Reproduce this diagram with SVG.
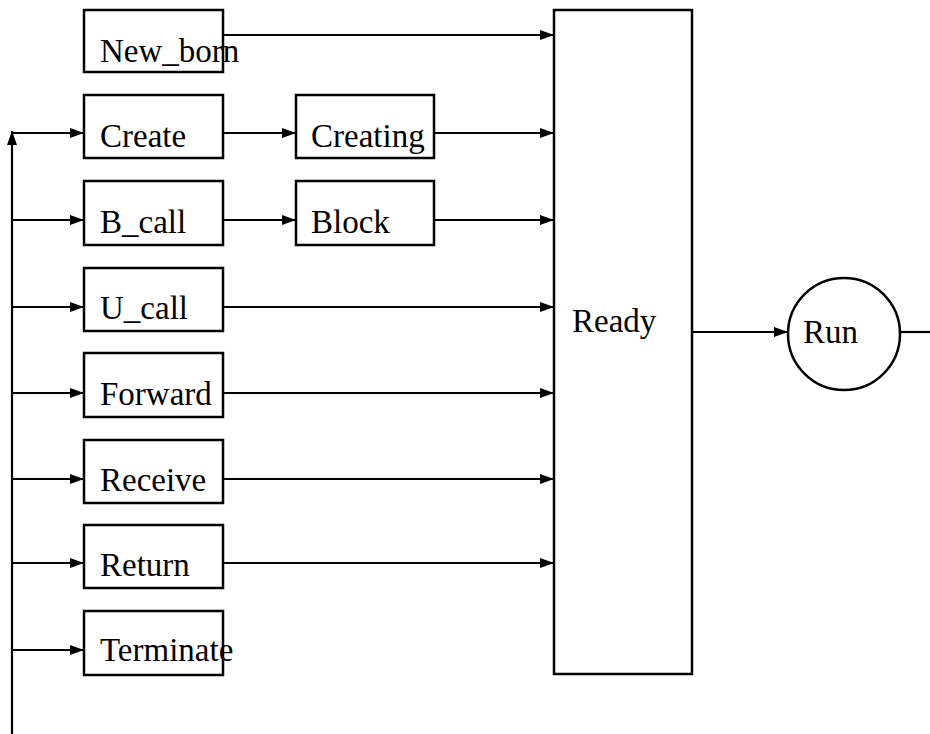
<svg xmlns="http://www.w3.org/2000/svg" width="930" height="734" viewBox="0 0 930 734">
  <style>
    .box { fill: #fff; stroke: #000; stroke-width: 2.5; }
    .lbl { font-family: "Liberation Serif", "DejaVu Serif", serif; font-size: 33px; fill: #000; }
    .wire { fill: none; stroke: #000; stroke-width: 2.2; }
    .arr { marker-end: url(#head); }
  </style>
  <defs>
    <marker id="head" viewBox="0 0 14 10" refX="14" refY="5" markerWidth="14" markerHeight="10" markerUnits="userSpaceOnUse" orient="auto">
      <path d="M0,0 L14,5 L0,10 Z" fill="#000"/>
    </marker>
  </defs>
  <rect width="930" height="734" fill="#fff"/>

  <!-- connectors -->
  <g id="connectors">
    <!-- feedback bus on the left -->
    <line class="wire arr" x1="12" y1="734" x2="12" y2="131"/>
    <line class="wire arr" x1="12" y1="133" x2="84" y2="133"/>
    <line class="wire arr" x1="12" y1="220" x2="84" y2="220"/>
    <line class="wire arr" x1="12" y1="307" x2="84" y2="307"/>
    <line class="wire arr" x1="12" y1="393" x2="84" y2="393"/>
    <line class="wire arr" x1="12" y1="479" x2="84" y2="479"/>
    <line class="wire arr" x1="12" y1="563" x2="84" y2="563"/>
    <line class="wire arr" x1="12" y1="650" x2="84" y2="650"/>
    <!-- intermediate states -->
    <line class="wire arr" x1="223" y1="133" x2="296" y2="133"/>
    <line class="wire arr" x1="223" y1="220" x2="296" y2="220"/>
    <!-- into Ready -->
    <line class="wire arr" x1="223" y1="35" x2="554" y2="35"/>
    <line class="wire arr" x1="434" y1="133" x2="554" y2="133"/>
    <line class="wire arr" x1="434" y1="220" x2="554" y2="220"/>
    <line class="wire arr" x1="223" y1="307" x2="554" y2="307"/>
    <line class="wire arr" x1="223" y1="393" x2="554" y2="393"/>
    <line class="wire arr" x1="223" y1="479" x2="554" y2="479"/>
    <line class="wire arr" x1="223" y1="563" x2="554" y2="563"/>
    <!-- Ready to Run and onward -->
    <line class="wire arr" x1="692" y1="332" x2="788" y2="332"/>
    <line class="wire" x1="900" y1="332" x2="930" y2="332"/>
  </g>

  <g id="new_born">
    <rect class="box" x="84" y="10" width="139" height="62"/>
    <text class="lbl" x="100" y="62">New_born</text>
  </g>
  <g id="create">
    <rect class="box" x="84" y="95" width="139" height="63"/>
    <text class="lbl" x="100" y="147">Create</text>
  </g>
  <g id="creating">
    <rect class="box" x="296" y="95" width="138" height="63"/>
    <text class="lbl" x="311" y="147">Creating</text>
  </g>
  <g id="b_call">
    <rect class="box" x="84" y="181" width="139" height="64"/>
    <text class="lbl" x="100" y="233">B_call</text>
  </g>
  <g id="block">
    <rect class="box" x="296" y="181" width="138" height="64"/>
    <text class="lbl" x="311" y="233">Block</text>
  </g>
  <g id="u_call">
    <rect class="box" x="84" y="268" width="139" height="63"/>
    <text class="lbl" x="100" y="319">U_call</text>
  </g>
  <g id="forward">
    <rect class="box" x="84" y="353" width="139" height="64"/>
    <text class="lbl" x="100" y="405">Forward</text>
  </g>
  <g id="receive">
    <rect class="box" x="84" y="440" width="139" height="63"/>
    <text class="lbl" x="100" y="491">Receive</text>
  </g>
  <g id="return">
    <rect class="box" x="84" y="525" width="139" height="63"/>
    <text class="lbl" x="100" y="576">Return</text>
  </g>
  <g id="terminate">
    <rect class="box" x="84" y="611" width="139" height="64"/>
    <text class="lbl" x="100" y="661">Terminate</text>
  </g>
  <g id="ready">
    <rect class="box" x="554" y="10" width="138" height="664"/>
    <text class="lbl" x="572" y="332">Ready</text>
  </g>
  <g id="run">
    <circle class="box" cx="844" cy="334" r="56"/>
    <text class="lbl" x="803" y="343">Run</text>
  </g>
</svg>
